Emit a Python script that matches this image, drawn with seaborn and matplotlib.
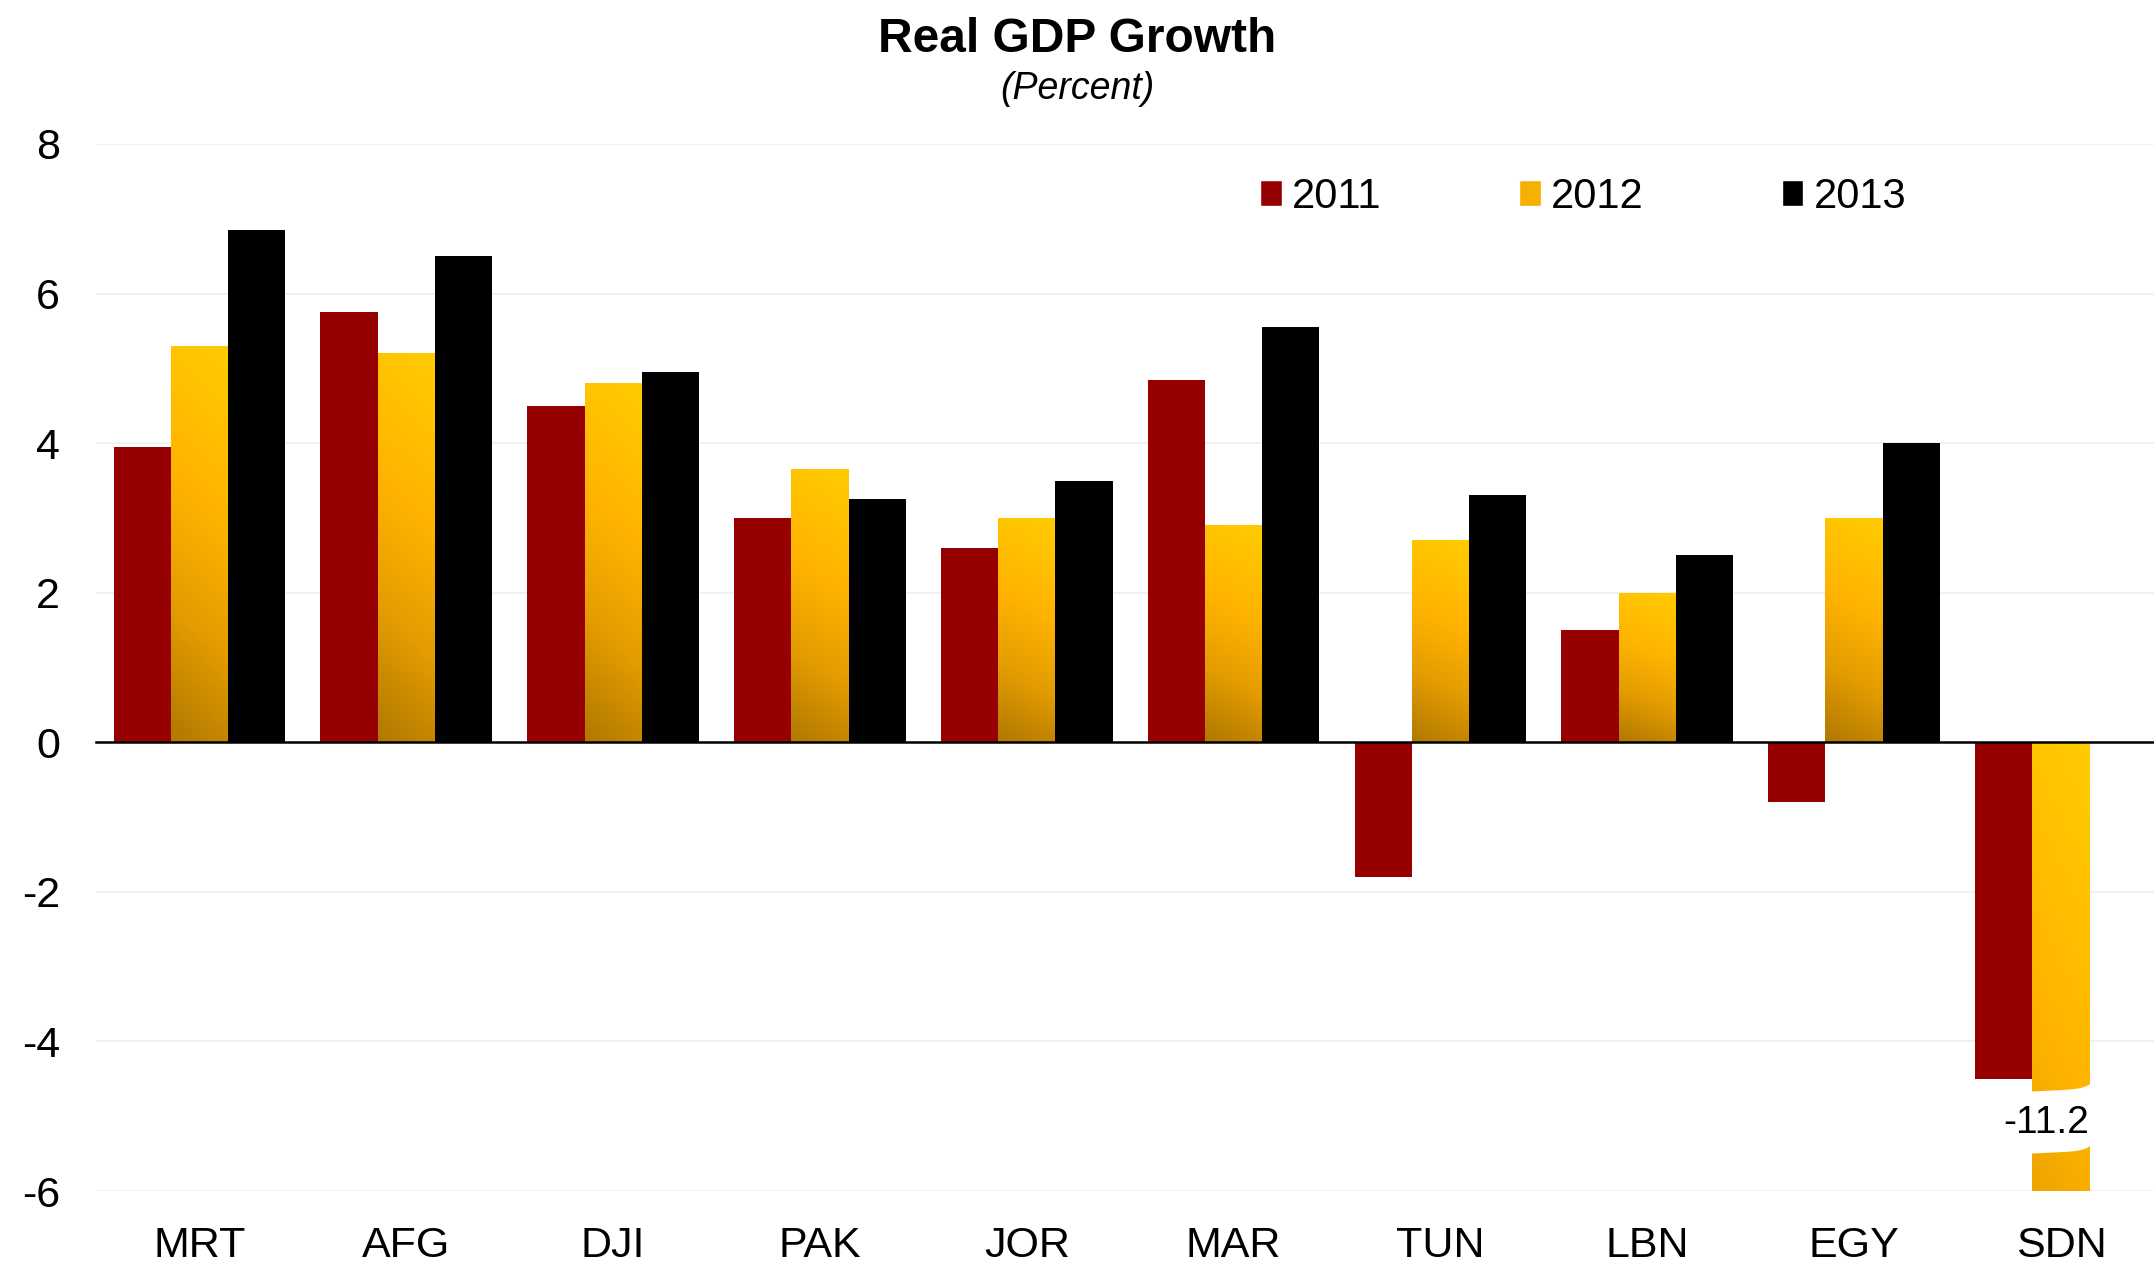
import numpy as np
import pandas as pd
import matplotlib
matplotlib.use("Agg")
import matplotlib.pyplot as plt
import matplotlib.transforms as mtransforms
import seaborn as sns
from matplotlib.colors import LinearSegmentedColormap
from matplotlib.patches import Patch, Polygon

# Real GDP growth (percent)
countries = ["MRT", "AFG", "DJI", "PAK", "JOR", "MAR", "TUN", "LBN", "EGY", "SDN"]
years = ["2011", "2012", "2013"]
gdp_2011 = [3.95, 5.75, 4.5, 3.0, 2.6, 4.85, -1.8, 1.5, -0.8, -4.5]
gdp_2012 = [5.3, 5.2, 4.8, 3.65, 3.0, 2.9, 2.7, 2.0, 3.0, -11.2]
gdp_2013 = [6.85, 6.5, 4.95, 3.25, 3.5, 5.55, 3.3, 2.5, 4.0, np.nan]
y_ticks = [-6, -4, -2, 0, 2, 4, 6, 8]

colors = ["#960000", "#F5B000", "#000000"]

df = pd.DataFrame({
    "country": countries * 3,
    "year": np.repeat(years, len(countries)),
    "growth": gdp_2011 + gdp_2012 + gdp_2013,
})

sns.set_style("white")
plt.rcParams["font.family"] = ["Liberation Sans", "DejaVu Sans"]
plt.rcParams["axes.unicode_minus"] = False
plt.rcParams["text.color"] = "black"
plt.rcParams["ytick.color"] = "black"
plt.rcParams["xtick.color"] = "black"

fig = plt.figure(figsize=(21.54, 12.63), dpi=100)
ax = fig.add_axes([0.0446, 0.057, 0.9554, 0.829])

sns.barplot(data=df, x="country", y="growth", hue="year", palette=colors,
            width=0.83, saturation=1, errorbar=None, legend=False, ax=ax)

# gold gradient on the 2012 bars (dark at the bottom, yellow at the top)
gold = LinearSegmentedColormap.from_list(
    "gold", [(0, "#B07800"), (0.3, "#E39C00"), (0.6, "#FFB300"), (1, "#FFCC00")])
yy, xx = np.mgrid[0:1:256j, 0:1:32j]
grad = 0.88 * yy + 0.12 * xx
for bar in ax.containers[1]:
    bar.set_edgecolor("none")
    x0, w = bar.get_x(), bar.get_width()
    y0, h = bar.get_y(), bar.get_height()
    im = ax.imshow(grad, cmap=gold, extent=(x0, x0 + w, min(y0, y0 + h), max(y0, y0 + h)),
                   origin="lower", aspect="auto", interpolation="bicubic",
                   zorder=bar.get_zorder() + 0.1)
    # clip with the bar outline as a path, so the axes box still clips too
    im.set_clip_path(bar.get_path(), bar.get_transform())
for c in (ax.containers[0], ax.containers[2]):
    for bar in c:
        bar.set_edgecolor("none")

ax.set_xlim(-0.5, 9.45)
ax.set_ylim(-6, 8)

# axis break on the SDN 2012 bar
sdn = ax.containers[1][len(countries) - 1]
bx, bw = sdn.get_x(), sdn.get_width()
t = np.linspace(0, 1, 60)
xs = bx - 0.01 + t * (bw + 0.03)
upper = -4.67 + 0.04 * t + 0.10 * t ** 8
lower = -5.50 + 0.04 * t + 0.10 * t ** 8
pts = np.column_stack([np.r_[xs, xs[::-1]], np.r_[upper, lower[::-1]]])
ax.add_patch(Polygon(pts, closed=True, facecolor="white", edgecolor="none", zorder=5))
ax.text(bx + bw / 2 - 0.07, -5.09, "-11.2", ha="center", va="center", fontsize=28, zorder=6)

# axes styling
ax.set_yticks(y_ticks)
ax.yaxis.grid(True, color="#EFEFEF", linewidth=1.2)
ax.set_axisbelow(True)
ax.set_xlabel("")
ax.set_ylabel("")
for s in ["left", "right", "top"]:
    ax.spines[s].set_visible(False)
ax.spines["bottom"].set_position(("data", 0))
ax.spines["bottom"].set_linewidth(1.8)
ax.spines["bottom"].set_color("black")
ax.spines["bottom"].set_zorder(7)

ax.set_xticks(np.arange(-0.5, 9, 1), labels=[])
ax.set_xticks(np.arange(len(countries)), minor=True)
ax.tick_params(axis="x", which="major", direction="in", length=9, width=1.8, color="black")
ax.tick_params(axis="x", which="minor", direction="in", length=7, width=1.8, color="black")
ax.tick_params(axis="y", length=0, pad=26, labelsize=31, labelcolor="black")

trans = mtransforms.blended_transform_factory(ax.transData, ax.transAxes)
for i, c in enumerate(countries):
    ax.text(i, -0.063, c, transform=trans, ha="center", va="baseline", fontsize=31)

handles = [Patch(facecolor=c) for c in colors]
fig.legend(handles, years, loc="center left", bbox_to_anchor=(0.585, 0.844), ncol=3,
           frameon=False, fontsize=30, handlelength=0.52, handleheight=0.58,
           handletextpad=0.25, columnspacing=3.3, borderpad=0, borderaxespad=0)

fig.text(0.5, 1 - 39 / 1263, "Real GDP Growth", ha="center", va="center",
         fontsize=34.5, fontweight="bold")
fig.text(0.5, 1 - 89 / 1263, "(Percent)", ha="center", va="center",
         fontsize=27, style="italic")

fig.savefig("out.png", dpi=100)
